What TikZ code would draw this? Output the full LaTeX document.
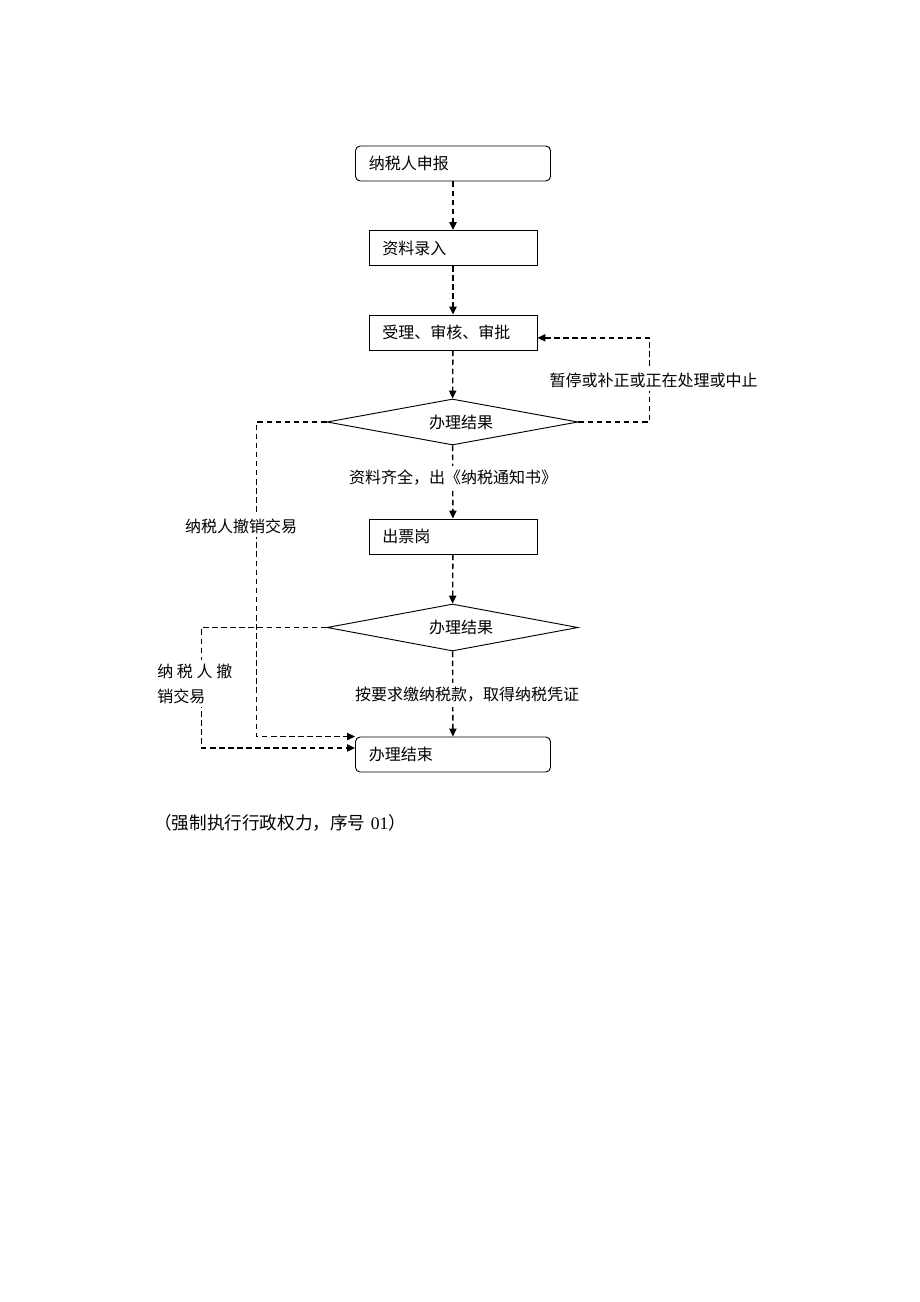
\documentclass[tikz,border=0pt]{standalone}
\usepackage{fontspec}
\setmainfont{Liberation Serif}
\newfontfamily\cjk{Noto Sans CJK SC}
\usetikzlibrary{shapes.geometric,arrows.meta,calc}
\tikzset{
 every node/.style={font=\cjk\fontsize{12}{18.75}\selectfont},
 box/.style={draw, line width=0.7pt, minimum height=26.25pt, inner xsep=10pt, inner ysep=0pt, align=left},
 rbox/.style={box, rounded corners=3.5pt},
 dia/.style={draw, diamond, line width=0.7pt, minimum width=188.25pt, minimum height=34.5pt, inner sep=0pt, aspect=5.4},
 flow/.style={line width=1pt, dash pattern=on 4.2pt off 2.6pt, -{Triangle[length=6pt,width=5.5pt]}},
 lbl/.style={fill=white, inner sep=3pt},
}
\begin{document}
\begin{tikzpicture}[x=0.75pt,y=-0.75pt]
\useasboundingbox[fill=white] (0,0) rectangle (920,1302);
% boxes
\node[rbox, text width=126.25pt] (b1) at (453,163.5) {纳税人申报};
\node[box, text width=106pt] (b2) at (453,248) {资料录入};
\node[box, text width=106pt] (b3) at (453,332.5) {受理、审核、审批};
\node[dia] (d1) at (452.5,422) {};
\node (t1) at (461,422) {办理结果};
\node[box, text width=106pt] (b4) at (453,536.5) {出票岗};
\node[dia, minimum height=35.25pt] (d2) at (452.5,627.5) {};
\node (t2) at (461,627.5) {办理结果};
\node[rbox, text width=126.25pt] (b5) at (453,754.5) {办理结束};
% connectors
\draw[flow] (b1) -- (b2);
\draw[flow] (b2) -- (b3);
\draw[flow] (b3) -- (d1);
\draw[flow] (d1) -- (b4);
\draw[flow] (b4) -- (d2);
\draw[flow] (d2) -- (b5);
\draw[flow] (d1.east) -- ++(71,0) |- ([yshift=-4pt]b3.east);
\draw[flow] (d1.west) -- ++(-70,0) |- (b5.north west);
\draw[flow] (d2.west) -- ++(-125,0) |- ([yshift=4.9pt]b5.west);
% labels
\node[lbl] (l1) at (653.5,380) {暂停或补正或正在处理或中止};
\node[lbl] (l2) at (241,526) {纳税人撤销交易};
\node[lbl] (l3) at (453,478) {资料齐全，出《纳税通知书》};
\node[lbl] (l4) at (467,695) {按要求缴纳税款，取得纳税凭证};
\node[lbl, align=left, anchor=west] (l5) at (153,683.5) {纳\hspace{2.8pt}税\hspace{2.8pt}人\hspace{2.8pt}撤\\销交易};
\node[anchor=west, inner sep=0pt, font=\cjk\fontsize{13.2}{16}\selectfont] (cap) at (154,823) {（强制执行行政权力，序号\hspace{4pt}{\rmfamily 01}）};
\end{tikzpicture}
\end{document}
